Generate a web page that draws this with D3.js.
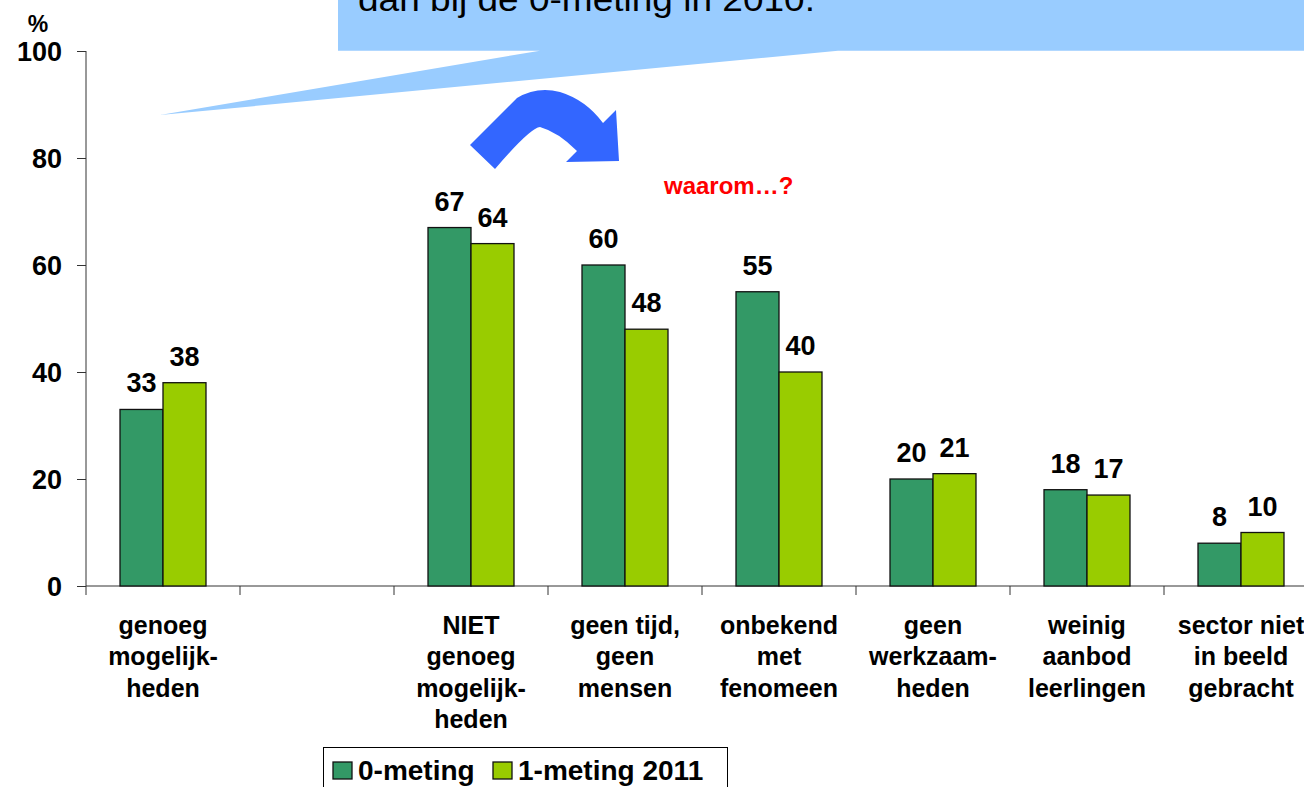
<!DOCTYPE html>
<html>
<head>
<meta charset="utf-8">
<script src="https://cdn.jsdelivr.net/npm/d3@7"></script>
<style>
  html, body { margin: 0; padding: 0; background: #fff; overflow: hidden; }
  svg { display: block; font-family: "Liberation Sans", Arial, sans-serif; }
</style>
</head>
<body>
<svg id="chart" width="1304" height="787"></svg>
<script>
// ---- data ----
const categories = [
  ["genoeg", "mogelijk-", "heden"],
  [],
  ["NIET", "genoeg", "mogelijk-", "heden"],
  ["geen tijd,", "geen", "mensen"],
  ["onbekend", "met", "fenomeen"],
  ["geen", "werkzaam-", "heden"],
  ["weinig", "aanbod", "leerlingen"],
  ["sector niet", "in beeld", "gebracht"]
];
const seriesNames = ["0-meting", "1-meting 2011"];
const meting0 = [33, null, 67, 60, 55, 20, 18, 8];
const meting1 = [38, null, 64, 48, 40, 21, 17, 10];
const yTicks = [0, 20, 40, 60, 80, 100];
const seriesColors = ["#339966", "#99CC00"];
const calloutText = "dan bij de 0-meting in 2010.";
const noteText = "waarom\u2026?";

// ---- layout ----
const svg = d3.select("#chart");
const x0 = 86, yBase = 586, yTop = 51, step = 154;
const idx = d3.range(categories.length);

const x = d3.scaleBand()
  .domain(idx)
  .range([x0, x0 + step * categories.length])
  .paddingInner(0.4416)
  .paddingOuter(0.2208);
const xs = d3.scaleBand().domain([0, 1]).range([0, x.bandwidth()]);
const y = d3.scaleLinear().domain([0, 100]).range([yBase, yTop]);

// ---- callout (speech bubble) ----
svg.append("path")
  .attr("d", "M338,-5 L1310,-5 L1310,50.7 L838,50.7 L160,115 L540,50.7 L338,50.7 Z")
  .attr("fill", "#99CCFF");
svg.append("text")
  .attr("x", 358).attr("y", 11)
  .attr("font-size", 33)
  .attr("textLength", 457)
  .attr("lengthAdjust", "spacingAndGlyphs")
  .attr("fill", "#000")
  .text(calloutText);

// ---- curved arrow ----
svg.append("path")
  .attr("d", "M470,145 L517,98 Q537,86 560,92 Q586,100 603,123 L616,110 L619,161 L566,162 L577,151 Q558,132 540,127 Q530,128 495,169 Z")
  .attr("fill", "#3366FF");

// ---- note ----
svg.append("text")
  .attr("x", 664).attr("y", 194)
  .attr("font-size", 24).attr("font-weight", "bold")
  .attr("fill", "#FF0000")
  .text(noteText);

// ---- y axis ----
const yAxis = svg.append("g").attr("transform", `translate(${x0},0)`)
  .call(d3.axisLeft(y).tickValues(yTicks).tickSize(9).tickPadding(0).tickFormat(d3.format("d")));
yAxis.select(".domain").attr("stroke", "#333").attr("d", `M0,${yTop}V${yBase}`);
yAxis.selectAll(".tick line").attr("stroke", "#333");
yAxis.selectAll(".tick text")
  .attr("x", -24).attr("dy", "0.36em")
  .attr("font-size", 27).attr("font-weight", "bold")
  .attr("font-family", "Liberation Sans, Arial, sans-serif")
  .attr("fill", "#000");

svg.append("text")
  .attr("x", 38).attr("y", 32)
  .attr("text-anchor", "middle")
  .attr("font-size", 23).attr("font-weight", "bold")
  .text("%");

// ---- x axis ----
svg.append("line")
  .attr("x1", x0).attr("x2", 1304)
  .attr("y1", yBase).attr("y2", yBase)
  .attr("stroke", "#333");
const boundaries = d3.range(categories.length + 1).map(i => x(0) - x.step() * x.paddingOuter() + i * x.step());
svg.append("g").selectAll("line").data(boundaries).join("line")
  .attr("x1", d => d).attr("x2", d => d)
  .attr("y1", yBase).attr("y2", yBase + 9)
  .attr("stroke", "#333");

// category labels
const catG = svg.append("g").selectAll("text").data(idx).join("text")
  .attr("text-anchor", "middle")
  .attr("font-size", 25).attr("font-weight", "bold")
  .attr("fill", "#000");
catG.each(function(i) {
  const t = d3.select(this);
  categories[i].forEach((line, k) => {
    t.append("tspan")
      .attr("x", x(i) + x.bandwidth() / 2)
      .attr("y", 634 + k * 31.3)
      .text(line);
  });
});

// ---- bars ----
const series = [meting0, meting1];
series.forEach((vals, s) => {
  const g = svg.append("g");
  const valid = idx.filter(i => vals[i] != null);
  g.selectAll("rect").data(valid).join("rect")
    .attr("x", i => x(i) + xs(s))
    .attr("y", i => y(vals[i]))
    .attr("width", xs.bandwidth())
    .attr("height", i => y(0) - y(vals[i]))
    .attr("fill", seriesColors[s])
    .attr("stroke", "#111")
    .attr("stroke-width", 1.3);
  g.selectAll("text").data(valid).join("text")
    .attr("x", i => x(i) + xs(s) + xs.bandwidth() / 2)
    .attr("y", i => y(vals[i]) - 17)
    .attr("text-anchor", "middle")
    .attr("font-size", 27).attr("font-weight", "bold")
    .attr("fill", "#000")
    .text(i => vals[i]);
});

// ---- legend ----
const lg = svg.append("g");
lg.append("rect")
  .attr("x", 323.5).attr("y", 747.5)
  .attr("width", 404).attr("height", 60)
  .attr("fill", "#fff").attr("stroke", "#000");
const legendX = [333, 493];
seriesNames.forEach((name, s) => {
  lg.append("rect")
    .attr("x", legendX[s]).attr("y", 762)
    .attr("width", 19).attr("height", 17)
    .attr("fill", seriesColors[s]).attr("stroke", "#111").attr("stroke-width", 1.3);
  lg.append("text")
    .attr("x", legendX[s] + 25).attr("y", 780)
    .attr("font-size", 28).attr("font-weight", "bold")
    .attr("fill", "#000")
    .text(name);
});
</script>
</body>
</html>
